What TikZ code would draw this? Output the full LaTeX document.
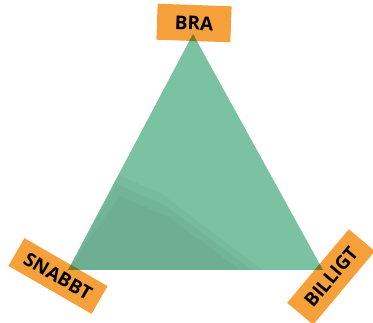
\documentclass[tikz,border=0pt]{standalone}
\usepackage{fontspec}
\setmainfont{Open Sans}
\usepackage{tikz}
\usetikzlibrary{positioning}
\definecolor{trigreen}{RGB}{123,194,163}
\definecolor{grassgreen}{RGB}{90,140,118}
\definecolor{taborange}{RGB}{245,160,59}
\definecolor{overlap}{RGB}{118,122,37}

\tikzset{
  tag/.style={fill=taborange, inner sep=0pt, font=\bfseries\fontsize{19}{19}\selectfont, text=black},
}

\begin{document}
\begin{tikzpicture}[x=1pt, y=-1pt]
\useasboundingbox (0,0) rectangle (373,323);
% Labels (under the triangle)
\node[tag, minimum width=74pt, minimum height=36pt, rotate=-2] (bra) at (194,23) {BRA};
\node[tag, minimum width=96pt, minimum height=32pt, rotate=-30] (snabbt) at (58,276) {SNABBT};
\node[tag, minimum width=96pt, minimum height=34pt, rotate=50] (billigt) at (331,277) {BILLIGT};
% Triangle corners
\coordinate (top) at (193,34);
\coordinate (left) at (68,270);
\coordinate (right) at (323,270);
\fill[trigreen] (top) -- (left) -- (right) -- cycle;
\begin{scope}
\clip (top) -- (left) -- (right) -- cycle;
% Grass shadow in the lower left
\foreach \a/\b/\c in {112/172/262, 116/184/252, 120/196/240} {
  \fill[grassgreen, opacity=0.13] (left) -- (\a,\b) -- (\a+50,\b+22) -- (\c,270) -- cycle;
}
% Where the triangle covers the labels
\foreach \n in {bra, snabbt, billigt} {
  \fill[overlap] (\n.north west) -- (\n.north east) -- (\n.south east) -- (\n.south west) -- cycle;
}
\end{scope}
\end{tikzpicture}
\end{document}
